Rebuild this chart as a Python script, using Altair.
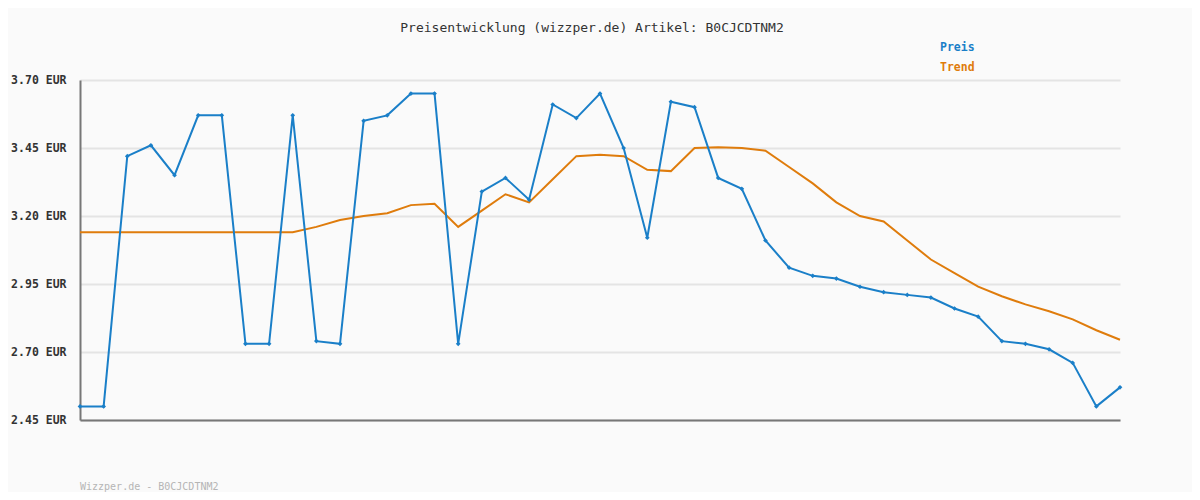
import altair as alt
import pandas as pd

title_text = "Preisentwicklung (wizzper.de) Artikel: B0CJCDTNM2"
footer_text = "Wizzper.de - B0CJCDTNM2"
y_ticks = [2.45, 2.70, 2.95, 3.20, 3.45, 3.70]

preis = [2.50, 2.50, 3.42, 3.46, 3.35, 3.57, 3.57, 2.73, 2.73, 3.57,
         2.74, 2.73, 3.55, 3.57, 3.65, 3.65, 2.73, 3.29, 3.34, 3.26,
         3.61, 3.56, 3.65, 3.45, 3.12, 3.62, 3.60, 3.34, 3.30, 3.11,
         3.01, 2.98, 2.97, 2.94, 2.92, 2.91, 2.90, 2.86, 2.83, 2.74,
         2.73, 2.71, 2.66, 2.50, 2.57]
trend = [3.14, 3.14, 3.14, 3.14, 3.14, 3.14, 3.14, 3.14, 3.14, 3.14,
         3.16, 3.185, 3.20, 3.21, 3.24, 3.245, 3.16, 3.22, 3.28, 3.25,
         3.335, 3.42, 3.425, 3.42, 3.37, 3.365, 3.45, 3.453, 3.45, 3.44,
         3.38, 3.32, 3.25, 3.20, 3.18, 3.11, 3.04, 2.99, 2.94, 2.905,
         2.875, 2.85, 2.82, 2.78, 2.745]

BLUE = "#1a7fc8"
ORANGE = "#df7c0c"
FONT = "DejaVu Sans Mono"

df = pd.DataFrame({"i": list(range(len(preis))), "preis": preis, "trend": trend})

x_enc = alt.X("i:Q", scale=alt.Scale(domain=[0, len(preis) - 1], nice=False, zero=False),
              axis=alt.Axis(labels=False, ticks=False, grid=False, title=None,
                            domainColor="#777777", domainWidth=2))
y_scale = alt.Scale(domain=[2.45, 3.70], nice=False, zero=False)
y_axis = alt.Axis(values=y_ticks, labelExpr="format(datum.value, '.2f') + ' EUR'",
                  ticks=False, title=None, grid=True, gridColor="#e4e4e4", gridWidth=2,
                  domainColor="#777777", domainWidth=2, labelFont=FONT, labelFontSize=11.5,
                  labelFontWeight="bold", labelColor="#333333", labelPadding=14)

base = alt.Chart(df)

trend_line = base.mark_line(color=ORANGE, strokeWidth=2).encode(
    x=x_enc, y=alt.Y("trend:Q", scale=y_scale, axis=y_axis))
preis_line = base.mark_line(color=BLUE, strokeWidth=2).encode(
    x="i:Q", y=alt.Y("preis:Q", scale=y_scale))
preis_pts = base.mark_point(color=BLUE, shape="diamond", filled=True, size=22, opacity=1).encode(
    x="i:Q", y=alt.Y("preis:Q", scale=y_scale))

legend_df = pd.DataFrame({"label": ["Preis", "Trend"], "c": [BLUE, ORANGE], "yy": [-32, -12]})
legend = alt.Chart(legend_df).mark_text(align="left", baseline="middle", font=FONT,
                                        fontSize=11.5, fontWeight="bold").encode(
    x=alt.value(860), y=alt.Y("yy:Q", scale=None), text="label:N",
    color=alt.Color("c:N", scale=None))

title = alt.Chart(pd.DataFrame({"t": [title_text]})).mark_text(
    align="center", baseline="middle", font=FONT, fontSize=13, color="#333333").encode(
    x=alt.value(512), y=alt.value(-52), text="t:N")

footer = alt.Chart(pd.DataFrame({"t": [footer_text]})).mark_text(
    align="left", baseline="middle", font=FONT, fontSize=10, color="#b5b5b5").encode(
    x=alt.value(0), y=alt.value(407), text="t:N")

chart = alt.layer(trend_line, preis_line, preis_pts, legend, title, footer).properties(
    width=1040, height=340,
    background="#fafafa",
    padding={"left": 72, "top": 72, "right": 72, "bottom": 72},
    autosize=alt.AutoSizeParams(type="none"),
).configure_view(stroke=None)

chart.save("out.html", embed_options={"renderer": "svg", "actions": False})
